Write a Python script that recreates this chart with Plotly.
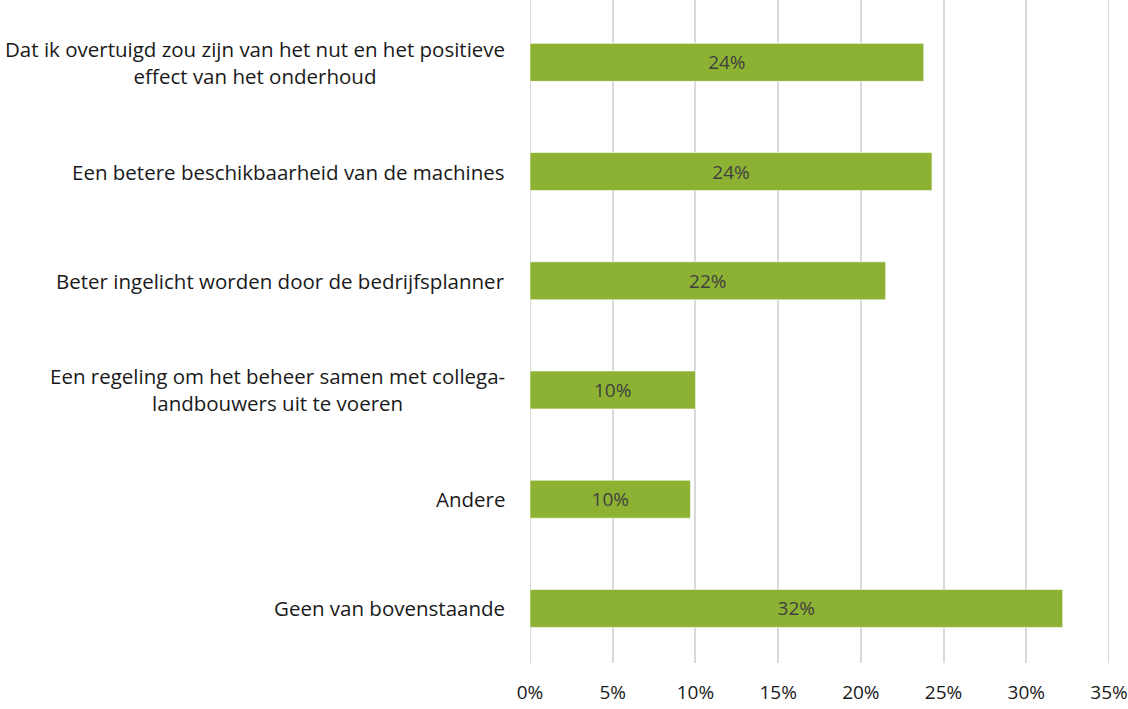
import plotly.graph_objects as go

categories = [
    "Dat ik overtuigd zou zijn van het nut en het positieve<br>effect van het onderhoud",
    "Een betere beschikbaarheid van de machines",
    "Beter ingelicht worden door de bedrijfsplanner",
    "Een regeling om het beheer samen met collega-<br>landbouwers uit te voeren",
    "Andere",
    "Geen van bovenstaande",
]
values = [0.238, 0.243, 0.215, 0.100, 0.097, 0.322]
bar_labels = ["24%", "24%", "22%", "10%", "10%", "32%"]
tick_vals = [0, 0.05, 0.10, 0.15, 0.20, 0.25, 0.30, 0.35]

font_family = "'Open Sans', Lato, sans-serif"
grid_color = "#D9D9D9"

fig = go.Figure()
fig.add_trace(go.Bar(
    y=categories,
    x=values,
    orientation="h",
    marker=dict(color="#8DB233", line=dict(color="rgba(255,255,255,0.6)", width=1)),
    text=bar_labels,
    textposition="inside",
    insidetextanchor="middle",
    textfont=dict(family=font_family, size=19, color="#404040"),
    hoverinfo="skip",
))

# category labels as centred annotations (tick labels would be right-aligned)
for cat in categories:
    fig.add_annotation(
        x=0, xref="paper", y=cat, yref="y",
        xanchor="right", xshift=-23,
        text=cat, showarrow=False, align="center",
        font=dict(family=font_family, size=20.5, color="#1a1a1a"),
    )

# gridlines at the two edges of the range (plotly skips them)
for edge in (tick_vals[0], tick_vals[-1]):
    fig.add_shape(
        type="line", xref="x", yref="paper",
        x0=edge, x1=edge, y0=0, y1=1,
        line=dict(color=grid_color, width=2),
        layer="below",
    )

fig.update_layout(
    width=1128,
    height=709,
    margin=dict(l=530, r=15, t=0, b=46),
    plot_bgcolor="white",
    paper_bgcolor="white",
    bargap=0.652,
    showlegend=False,
    font=dict(family=font_family, size=19, color="#1a1a1a"),
    xaxis=dict(
        range=[0, 0.35],
        tickvals=tick_vals,
        tickformat=".0%",
        showgrid=True,
        gridcolor=grid_color,
        gridwidth=2,
        zeroline=False,
        showline=False,
        ticks="",
        ticklabelstandoff=16,
        ticklabeloverflow="allow",
        tickfont=dict(family=font_family, size=19, color="#1a1a1a"),
    ),
    yaxis=dict(
        range=[5.5, -0.571],
        showticklabels=False,
        showgrid=False,
        zeroline=False,
        ticks="",
    ),
)

fig.write_html(
    "out.html",
    config={"displayModeBar": False},
    post_script="document.body.style.margin='0';document.body.style.overflow='hidden';",
)
